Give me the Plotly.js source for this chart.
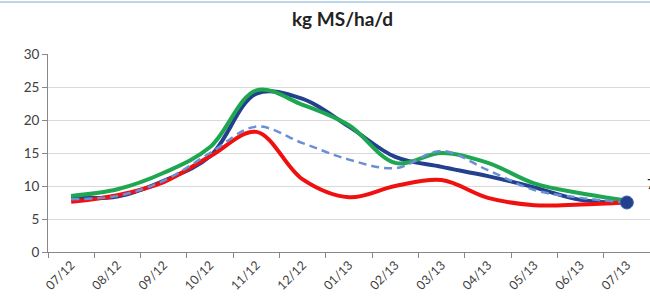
<!DOCTYPE html>
<html>
<head>
<meta charset="utf-8">
<script src="https://cdn.plot.ly/plotly-3.0.1.min.js"></script>
<style>
  html, body { margin: 0; padding: 0; background: #fff; }
  #chart { width: 650px; height: 305px; }
</style>
</head>
<body>
<div id="chart"></div>
<script>
const months = ["07/12","08/12","09/12","10/12","11/12","12/12","01/13","02/13","03/13","04/13","05/13","06/13","07/13"];
const navySeries  = [8.3, 8.4, 10.8, 14.5, 24.0, 23.2, 19.0, 14.4, 12.9, 11.5, 9.8, 7.9, 7.5];
const greenSeries = [8.5, 9.5, 12.0, 15.9, 24.5, 22.3, 19.2, 13.5, 15.0, 13.5, 10.4, 8.9, 7.8];
const redSeries   = [7.6, 8.6, 10.6, 14.5, 18.2, 11.0, 8.3, 10.0, 10.9, 8.2, 7.1, 7.2, 7.5];
const dashSeries  = [8.0, 8.5, 10.8, 15.0, 19.0, 16.5, 14.0, 12.7, 15.3, 12.4, 9.4, 8.2, 7.5];
const yTicks = [0, 5, 10, 15, 20, 25, 30];

const line = (y, color, width, dash) => ({
  x: months, y: y, type: 'scatter', mode: 'lines',
  line: {color: color, width: width, dash: dash || 'solid', shape: 'spline', smoothing: 1},
  hoverinfo: 'skip', showlegend: false
});

const traces = [
  line(navySeries, '#23408e', 4),
  line(greenSeries, '#1ea650', 4),
  line(redSeries, '#f01010', 4),
  line(dashSeries, '#6a8fd4', 2.5, '8px,5px'),
  {
    x: [months[months.length - 1]], y: [navySeries[navySeries.length - 1]],
    type: 'scatter', mode: 'markers',
    marker: {color: '#23408e', size: 13, line: {color: '#3a63b0', width: 1}},
    hoverinfo: 'skip', showlegend: false
  }
];

const layout = {
  width: 650, height: 305,
  margin: {l: 48, r: 0, t: 54, b: 53},
  paper_bgcolor: '#ffffff', plot_bgcolor: '#ffffff',
  font: {family: 'Lato, "Open Sans", sans-serif', color: '#404040', size: 12},
  title: {
    text: '<b>kg MS/ha/d</b>',
    font: {family: 'Lato, "Open Sans", sans-serif', size: 19, color: '#222'},
    x: 0.527, xanchor: 'center', y: 0.937, yanchor: 'middle'
  },
  xaxis: {
    type: 'category', range: [-0.5, 12.5],
    tickangle: -45, tickson: 'boundaries',
    ticks: 'outside', ticklen: 5, tickcolor: '#888', tickwidth: 1,
    showline: true, linecolor: '#888', linewidth: 1,
    showgrid: false, zeroline: false,
    tickfont: {size: 12.5, color: '#404040'}, fixedrange: true
  },
  yaxis: {
    range: [0, 30], tickvals: yTicks, ticktext: yTicks.map(String),
    ticks: 'outside', ticklen: 5, tickcolor: '#888', tickwidth: 1,
    showline: true, linecolor: '#888', linewidth: 1,
    showgrid: true, gridcolor: '#d9d9d9', gridwidth: 1,
    zeroline: false, tickfont: {size: 13.5, color: '#404040'}, fixedrange: true
  },
  shapes: [{
    type: 'line', xref: 'paper', yref: 'paper',
    x0: -0.09, x1: 1.0, y0: 1.262, y1: 1.262,
    line: {color: '#bcd6ec', width: 2}
  }],
  annotations: [{
    xref: 'paper', yref: 'y', x: 0.992, y: 10.3, xanchor: 'left', yanchor: 'middle',
    text: '7', showarrow: false, font: {size: 13, color: '#222'}
  }]
};

Plotly.newPlot('chart', traces, layout, {staticPlot: true, displayModeBar: false});
</script>
</body>
</html>
